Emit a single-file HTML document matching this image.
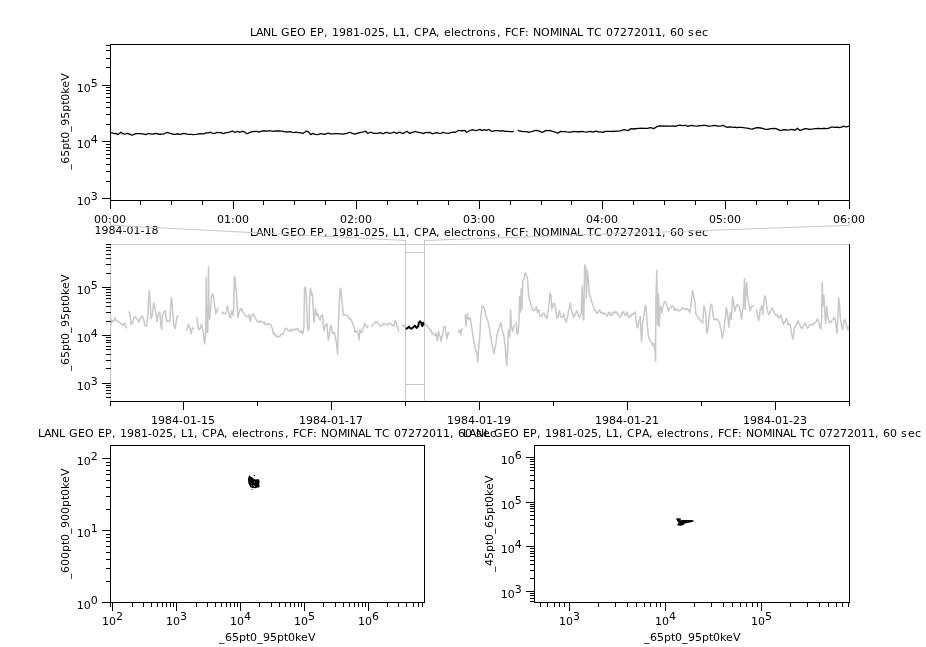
<!DOCTYPE html>
<html><head><meta charset="utf-8"><title>Autoplot</title>
<style>html,body{margin:0;padding:0;background:#fff;width:926px;height:647px;overflow:hidden}
svg{will-change:transform}
svg text{fill:#000;font-family:"DejaVu Sans","Liberation Sans",sans-serif;font-size:11px;white-space:pre}</style>
</head><body>
<svg width="926" height="647" viewBox="0 0 926 647" style="display:block">
<text x="250 256 263 271 277 281 290 297 306 310 317 324 328 332 339 346 353 360 364 371 378 385 389 393 399 406 410 414 422 429 436 440 444 451 454 461 467 471 476 483 490 497 501 505 511 519 525 529 533 541 550 559 562 570 577 583 587 594 602 606 613 620 627 634 641 648 655 662 666 670 677 684 688 695 702" y="36">LANL GEO EP, 1981-025, L1, CPA, electrons, FCF: NOMINAL TC 07272011, 60 sec</text>
<polyline points="110.5,132.61 113,133.23 114.5,133.53 116,133.29 117.7,134.62 119.35,133.43 121,132.18 122.6,133.4 124.2,134.17 125.8,133.92 127.4,133.28 129.03,133.83 130.67,134.53 132.3,135.26 134.2,134.21 136.1,133.56 138.25,133.66 140.4,133.72 142.2,133.84 144,134.05 145.8,134.64 147.4,133.72 149,133.68 150.65,133.84 152.3,134.22 154.45,133.76 156.6,133.4 158.2,134.11 159.8,134.24 162,134.09 164.2,133.77 165.7,132.99 167.2,132.42 170.1,133.48 172,133.93 173.9,134.45 175.5,134.29 177.1,133.76 179.8,134.31 181.7,133.99 183.6,133.48 185.2,133.65 186.8,134.15 189,134.4 191.2,134.47 193.35,134.54 195.5,134.41 197.65,134.14 199.8,133.61 202.2,133.89 203.8,133.84 205.4,133.01 207.03,132.89 208.67,132.8 210.3,132.23 212.15,133.09 214,133.57 216.7,132.48 218.6,132.53 220.5,132.44 223.2,133.69 225.9,132.61 227.55,132.5 229.2,132.15 230.8,131.69 232.4,131.18 234.6,132.27 236.2,131.97 237.8,131.39 240,132.28 241.6,131.48 243.2,131.3 245.1,132.42 247,133.75 248.9,132.96 250.8,131.99 252.95,131.59 255.1,131.28 257,131.41 258.9,132.08 261.6,131.03 263.4,130.98 265.2,130.91 267,131.23 268.72,130.91 270.44,130.97 272.16,131.05 273.88,131.29 275.6,130.89 277.23,131.02 278.85,131.02 280.48,131.14 282.1,131.06 284.25,131.68 286.4,131.99 288,131.86 289.6,131.63 291.8,132.19 294,132.53 295.5,132.25 297,132.39 298.5,132.54 300,132.67 302.7,133.49 304.6,132.34 306.5,130.98 308.6,132.15 310.8,134.56 313,133.43 315.1,134.43 316.75,134.58 318.4,134.4 321.1,133.51 323.8,134.46 325.95,133.99 328.1,133.18 330.25,133.8 332.4,133.94 334,133.79 335.6,133.55 337.5,133.65 339.4,133.95 341.3,133.8 343.2,134.07 344.8,133.68 346.4,133.58 348.05,132.95 349.7,132.23 352.4,133.42 355.1,134.18 357,133.45 358.9,132.83 360.75,132.4 362.6,132.13 364.25,131.51 365.9,131.49 368,133.56 370.2,132.22 372.35,132.83 374.5,133.42 376.15,133.43 377.8,133.31 380.5,132.57 383.2,133.75 384.8,132.93 386.4,132.39 388,132.74 389.6,133.3 391.8,132.77 394,132.08 396.7,133.36 398.35,132.63 400,132.16 401.6,133.18 403.2,133.51 405.1,132.22 407,131.32 409.7,133.46 411.9,132.41 413.5,132.09 415.1,131.48 416.75,131.95 418.4,132.28 420,132.7 421.6,132.97 423.2,133.64 425.9,132.42 427.55,132.54 429.2,132.31 430.8,132.86 432.4,133.76 434.55,133.24 436.7,132.58 438.35,133.1 440,133.66 441.6,133.07 443.2,132.26 444.8,132.81 446.4,133.13 448.6,133.36 450.2,132.76 451.8,132.29 453.45,132.18 455.1,132.3 456.7,131.58 458.3,130.47 459.93,130.72 461.55,130.74 463.18,130.73 464.8,130.43 466.7,132.26 469.1,130.96 470.75,130.25 472.4,129.55 474,130.16 475.6,130.7 477.75,130.12 479.9,129.39 482.1,130.58 484.2,129.65 486.4,130.29 489.1,129.48 491.8,131.5 493.4,131.04 495,130.63 496.67,130.62 498.33,130.61 500,131.04 501.6,130.72 503.2,130.85 504.85,131.34 506.5,131.45 508.32,131.45 510.15,131.72 511.97,131.61 513.8,131.5" fill="none" stroke="#000" stroke-width="1.3" stroke-linejoin="round"/>
<polyline points="517.8,130.14 520,131.21 521.6,131.26 523.2,131.67 524.8,131.65 526.7,131.72 528.6,132.46 530.5,131.99 532.4,131.28 534.55,130.73 536.7,130.42 538.5,130.85 540.3,131.42 542.1,132.54 544.25,131.37 546.4,130.31 548.05,130.57 549.7,130.37 551.85,131.14 554,131.66 555.6,132.31 557.2,133.28 559.1,132.3 561,131.27 562.9,131.59 564.8,131.58 566.95,131.96 569.1,132.12 571.25,132.06 573.4,131.33 575.6,131.53 577.8,131.74 579.95,131.75 582.1,131.36 584.25,131.96 586.4,132.1 588,131.77 589.6,131.41 591.25,131.51 592.9,132.07 594.5,131.59 596.1,131.15 598.05,131.9 600,131.94 601.6,132.19 603.2,132.41 604.9,131.43 606.87,131.31 608.83,131.41 610.8,131.43 612.32,131.5 613.84,131.12 615.36,131.31 616.88,131.11 618.4,131.09 620,130.89 621.6,130.3 624.3,129.63 626.2,130.13 628.1,130.61 629.7,129.42 631.3,128.56 633.5,129 635.1,128.76 636.7,128.6 638.33,128.4 639.95,128.37 641.58,128.26 643.2,128.42 645.35,128.3 647.5,128.39 650.2,127.62 651.85,127.93 653.5,128.73 655.35,127.67 657.2,126.37 658.72,126.02 660.24,126.01 661.76,126.17 663.28,125.99 664.8,126.07 666.42,125.94 668.05,126.18 669.67,126.19 671.3,126.2 673.45,125.93 675.6,126.31 678.3,125.48 680.05,125.22 681.8,125.59 683.55,125.63 685.3,125.26 688,126.43 689.9,125.7 691.8,125.29 693.4,125.79 695,125.97 697.2,126.03 700,125.57 701.63,125.57 703.27,125.45 704.9,125.35 706.5,125.68 708.1,126.14 709.7,126.06 711.85,125.93 714,125.47 715.9,125.66 717.8,126.22 719.6,126.1 721.4,125.77 723.2,125.28 725.1,126.54 727,127.24 729.7,126.84 732.4,127.2 733.92,127.32 735.44,127.25 736.96,127.66 738.48,127.45 740,127.41 741.6,127.46 743.2,127.61 745.1,127.96 747,128.08 748.6,128.29 750.2,128.94 751.8,129.04 753.42,128.75 755.05,128.09 756.67,127.73 758.3,127.69 760.45,128.01 762.6,128.29 764.8,129.17 767,129.47 768.63,129.25 770.27,128.59 771.9,128.68 774.05,128.28 776.2,128.68 778.35,129.58 780.5,130.62 782.15,130.08 783.8,129.61 785.4,129.73 787,130.11 789.15,129.96 791.3,129.47 793.2,129.75 795.1,130.13 797.3,128.28 800,130.55 801.8,129.87 803.6,129.14 805.4,128.63 807.55,128.84 809.7,129.4 811.5,129.04 813.3,128.92 815.1,128.56 816.7,128.53 818.3,128.26 819.92,128.62 821.53,128.53 823.15,128.34 824.77,128.49 826.38,128.72 828,128.3 829.65,127.96 831.3,127.07 833.02,127.16 834.74,127.39 836.46,127.23 838.18,127.34 839.9,127.49 841.55,127.09 843.2,126.22 844.8,126.67 846.4,126.8 849.2,126.1" fill="none" stroke="#000" stroke-width="1.3" stroke-linejoin="round"/>
<rect x="110.5" y="44.5" width="739.0" height="156.0" fill="none" stroke="#000" stroke-width="1"/>
<line x1="102" y1="198.5" x2="111" y2="198.5" stroke="#000" stroke-width="1"/>
<line x1="106" y1="181.5" x2="111" y2="181.5" stroke="#000" stroke-width="1"/>
<line x1="106" y1="171.5" x2="111" y2="171.5" stroke="#000" stroke-width="1"/>
<line x1="106" y1="164.5" x2="111" y2="164.5" stroke="#000" stroke-width="1"/>
<line x1="106" y1="158.5" x2="111" y2="158.5" stroke="#000" stroke-width="1"/>
<line x1="106" y1="154.5" x2="111" y2="154.5" stroke="#000" stroke-width="1"/>
<line x1="106" y1="150.5" x2="111" y2="150.5" stroke="#000" stroke-width="1"/>
<line x1="106" y1="147.5" x2="111" y2="147.5" stroke="#000" stroke-width="1"/>
<line x1="106" y1="144.5" x2="111" y2="144.5" stroke="#000" stroke-width="1"/>
<line x1="102" y1="141.5" x2="111" y2="141.5" stroke="#000" stroke-width="1"/>
<line x1="106" y1="124.5" x2="111" y2="124.5" stroke="#000" stroke-width="1"/>
<line x1="106" y1="114.5" x2="111" y2="114.5" stroke="#000" stroke-width="1"/>
<line x1="106" y1="107.5" x2="111" y2="107.5" stroke="#000" stroke-width="1"/>
<line x1="106" y1="102.5" x2="111" y2="102.5" stroke="#000" stroke-width="1"/>
<line x1="106" y1="97.5" x2="111" y2="97.5" stroke="#000" stroke-width="1"/>
<line x1="106" y1="93.5" x2="111" y2="93.5" stroke="#000" stroke-width="1"/>
<line x1="106" y1="90.5" x2="111" y2="90.5" stroke="#000" stroke-width="1"/>
<line x1="106" y1="87.5" x2="111" y2="87.5" stroke="#000" stroke-width="1"/>
<line x1="102" y1="85.5" x2="111" y2="85.5" stroke="#000" stroke-width="1"/>
<line x1="106" y1="67.5" x2="111" y2="67.5" stroke="#000" stroke-width="1"/>
<line x1="106" y1="58.5" x2="111" y2="58.5" stroke="#000" stroke-width="1"/>
<line x1="106" y1="50.5" x2="111" y2="50.5" stroke="#000" stroke-width="1"/>
<line x1="106" y1="45.5" x2="111" y2="45.5" stroke="#000" stroke-width="1"/>
<text x="76.7 83.7" y="91.8">10</text><text x="90.7" y="86.8">5</text>
<text x="76.7 83.7" y="147.8">10</text><text x="90.7" y="142.8">4</text>
<text x="76.7 83.7" y="204.8">10</text><text x="90.7" y="199.8">3</text>
<text transform="translate(69,169.8) rotate(-90)" x="0 6 13 20 27 31 38 44 51 58 65 69 76 82 89" y="0">_65pt0_95pt0keV</text>
<line x1="110.5" y1="200" x2="110.5" y2="209" stroke="#000" stroke-width="1"/>
<line x1="140.5" y1="200" x2="140.5" y2="205" stroke="#000" stroke-width="1"/>
<line x1="171.5" y1="200" x2="171.5" y2="205" stroke="#000" stroke-width="1"/>
<line x1="202.5" y1="200" x2="202.5" y2="205" stroke="#000" stroke-width="1"/>
<line x1="233.5" y1="200" x2="233.5" y2="209" stroke="#000" stroke-width="1"/>
<line x1="263.5" y1="200" x2="263.5" y2="205" stroke="#000" stroke-width="1"/>
<line x1="294.5" y1="200" x2="294.5" y2="205" stroke="#000" stroke-width="1"/>
<line x1="325.5" y1="200" x2="325.5" y2="205" stroke="#000" stroke-width="1"/>
<line x1="356.5" y1="200" x2="356.5" y2="209" stroke="#000" stroke-width="1"/>
<line x1="387.5" y1="200" x2="387.5" y2="205" stroke="#000" stroke-width="1"/>
<line x1="417.5" y1="200" x2="417.5" y2="205" stroke="#000" stroke-width="1"/>
<line x1="448.5" y1="200" x2="448.5" y2="205" stroke="#000" stroke-width="1"/>
<line x1="479.5" y1="200" x2="479.5" y2="209" stroke="#000" stroke-width="1"/>
<line x1="510.5" y1="200" x2="510.5" y2="205" stroke="#000" stroke-width="1"/>
<line x1="541.5" y1="200" x2="541.5" y2="205" stroke="#000" stroke-width="1"/>
<line x1="571.5" y1="200" x2="571.5" y2="205" stroke="#000" stroke-width="1"/>
<line x1="602.5" y1="200" x2="602.5" y2="209" stroke="#000" stroke-width="1"/>
<line x1="633.5" y1="200" x2="633.5" y2="205" stroke="#000" stroke-width="1"/>
<line x1="664.5" y1="200" x2="664.5" y2="205" stroke="#000" stroke-width="1"/>
<line x1="695.5" y1="200" x2="695.5" y2="205" stroke="#000" stroke-width="1"/>
<line x1="725.5" y1="200" x2="725.5" y2="209" stroke="#000" stroke-width="1"/>
<line x1="756.5" y1="200" x2="756.5" y2="205" stroke="#000" stroke-width="1"/>
<line x1="787.5" y1="200" x2="787.5" y2="205" stroke="#000" stroke-width="1"/>
<line x1="818.5" y1="200" x2="818.5" y2="205" stroke="#000" stroke-width="1"/>
<line x1="849.5" y1="200" x2="849.5" y2="209" stroke="#000" stroke-width="1"/>
<text x="94 101 108 112 119" y="223">00:00</text>
<text x="217 224 231 235 242" y="223">01:00</text>
<text x="340 347 354 358 365" y="223">02:00</text>
<text x="463 470 477 481 488" y="223">03:00</text>
<text x="586 593 600 604 611" y="223">04:00</text>
<text x="709 716 723 727 734" y="223">05:00</text>
<text x="833 840 847 851 858" y="223">06:00</text>
<text x="94.5 101.5 108.5 115.5 122.5 126.5 133.5 140.5 144.5 151.5" y="234">1984-01-18</text>
<text x="250 256 263 271 277 281 290 297 306 310 317 324 328 332 339 346 353 360 364 371 378 385 389 393 399 406 410 414 422 429 436 440 444 451 454 461 467 471 476 483 490 497 501 505 511 519 525 529 533 541 550 559 562 570 577 583 587 594 602 606 613 620 627 634 641 648 655 662 666 670 677 684 688 695 702" y="236">LANL GEO EP, 1981-025, L1, CPA, electrons, FCF: NOMINAL TC 07272011, 60 sec</text>
<line x1="110.5" y1="222.5" x2="110.5" y2="225.3" stroke="#c8c8c8" stroke-width="1"/>
<line x1="110.5" y1="225.3" x2="405.5" y2="240.5" stroke="#c8c8c8" stroke-width="1"/>
<line x1="849.5" y1="222" x2="849.5" y2="225.3" stroke="#c8c8c8" stroke-width="1"/>
<line x1="849.5" y1="225.3" x2="424.5" y2="240.5" stroke="#c8c8c8" stroke-width="1"/>
<polyline points="110.5,316.8 110.8,325.3 111.9,319.9 112.65,321.49 113.4,321.5 114.2,320.46 115,317.6 116.15,320.47 117.3,320.7 118.45,322.25 119.6,322.2 120.75,323.85 121.9,323.8 122.7,325.49 123.5,325.3 124.7,323 125.6,325.21 126.5,328.4" fill="none" stroke="#c8c8c8" stroke-width="1.5" stroke-linejoin="round"/>
<polyline points="128.6,311.4 129.6,313 130.4,317.95 131.2,324.6 131.95,322.81 132.7,323 133.5,318.73 134.3,316.8 135.45,317.21 136.6,318.4 137.75,319.68 138.9,322.2 140.05,319.12 141.2,316.8 142,316.01 142.8,317.6 143.95,320.79 145.1,326.1 145.85,325.77 146.6,326.1 147.25,320.07 147.9,316.8 148.5,299.8 149.3,290.5 150,298.3 151,318.4 152,316.8 152.8,311.21 153.6,302.9 154.4,306 155.15,308.84 155.9,313.7 157.1,321.5 158.2,313.7 159,311.98 159.8,312.2 160.9,326.1 161.6,329.2 162.4,315.3 163.6,313 164.4,311.34 165.2,310.6 165.95,315.75 166.7,321.5 167.5,320.63 168.3,321.5 169.05,321.15 169.8,321.5 170.6,307.5 171.4,297.5 172.1,302.9 172.9,314.24 173.7,324.6 174.45,327.05 175.2,328.4 176,322.91 176.8,316.8 177.55,316.85 178.3,315.3" fill="none" stroke="#c8c8c8" stroke-width="1.5" stroke-linejoin="round"/>
<polyline points="186,330.7 187.2,328.42 188.4,324.6 189.6,327.6 190.4,329.48 191.2,333.8 191.95,329.84 192.7,327.6 193.8,329.2" fill="none" stroke="#c8c8c8" stroke-width="1.5" stroke-linejoin="round"/>
<polyline points="196.9,316.8 197.65,323.6 198.4,328.4 199.2,329.64 200,329.2 201.2,324.6 202.3,327.6 203.4,333.8 204.6,343.9 205.4,338.5 205.9,323 206.2,277.4 206.6,332.3 207.3,306 207.7,332.3 208.2,304.5 208.5,266.6 209,310.6 209.6,319.1 210.5,309.1 211.6,296 212.7,293.6 213.6,298.3 214.7,306 215.8,313.7 216.7,312.2 217.8,307.5" fill="none" stroke="#c8c8c8" stroke-width="1.5" stroke-linejoin="round"/>
<polyline points="221.6,313 222.4,313.62 223.2,312.2 223.95,313.74 224.7,313.7 225.5,313.54 226.3,312.2 227.5,306 228.6,310.6 229.4,316.8 230.6,317.6 231.7,310.6 232.8,315.3 233.7,309.1 234.3,276.6 235.2,278.2 235.9,290.5 236.6,293.6 237.1,306 237.9,317.6 238.6,313.7 239.25,312.8 239.9,309.1 240.8,310.1 241.7,308.3 242.5,311.47 243.3,312.2 244.45,314.82 245.6,315.3 246.75,316.68 247.9,316.8 249.1,314.5 250.2,321.5 251,318.94 251.8,315.3 252.55,315.1 253.3,313.7 254.45,316.41 255.6,318.4 256.8,321.09 258,321.5 259,322.46 260,320.74 261,322.2 262.2,321.89 263.4,323 264.43,321.91 265.47,324.76 266.5,323.8 267.53,324.35 268.57,323.82 269.6,324.6 270.75,324.8 271.9,327.6 272.65,329.89 273.4,333.8 274.55,333.57 275.7,336.1 276.73,335.64 277.77,337 278.8,336.9 279.95,336.33 281.1,333.8 282.3,334.55 283.5,333 284.25,331.28 285,328.4 285.8,328.78 286.6,328.4 287.75,330.2 288.9,330.7 290.05,331.31 291.2,329.2 292.23,330.6 293.27,329.32 294.3,330 295.33,328.91 296.37,329.33 297.4,328.4 298.55,330.3 299.7,331.5 300.6,332.27 301.5,330.7 302.15,332.73 302.8,333.8 303.9,327.6 304.6,287.5 305.7,288.2 306.5,301.4 307.3,323 308.2,330.7 309,327.6 309.6,296.7 310.5,288.2 311.6,295.2 312.4,293.6 313.1,306 313.9,322.2 314.7,316.8 315.5,308.3 316.7,315.3 317.8,313.7 318.9,318.4 320.1,319.9 320.9,316.1 321.65,316.21 322.4,314.5 323.2,323.38 324,330.7 324.75,328.14 325.5,324.6 326.25,325.3 327,323.8 327.65,332.33 328.3,340 329.4,335.4 330.6,325.3 331.7,327.6 332.8,333.8 334,332.3 334.75,333.6 335.5,336.9 336.15,341.14 336.8,346.2 337.6,353.9 338.3,327.6 339.4,301.4 340.2,288.2 341,290.5 342,301.4 342.65,307.6 343.3,315.3 344.05,314.38 344.8,314.5 345.95,314.72 347.1,316.1 348.3,316.23 349.5,319.1 350.65,319.12 351.8,321.5 352.55,322.78 353.3,325.3 354.1,327.53 354.9,332.3 355.65,330.98 356.4,330.7 357.2,331.13 358,333 359,340 360,329.2 361,332.3 361.8,332.74 362.6,330.7 363.7,326.9 364.9,323 365.55,325.15 366.2,325.3 367.2,327.6 368,326.46 368.8,326.1" fill="none" stroke="#c8c8c8" stroke-width="1.5" stroke-linejoin="round"/>
<polyline points="371.1,325.3 372.25,325.94 373.4,323.8 374.55,323.17 375.7,321.5 376.85,322.42 378,322.2 379.2,325.3 380.4,326.1 381.55,325.6 382.7,323.8 383.73,324.68 384.77,323.97 385.8,324.6 386.95,324.57 388.1,325.3 388.85,323.22 389.6,323 390.8,323.6 392,325.3 393,324.75 394,326.1 394.7,322.7 395.4,320.7 396.15,322.26 396.9,325.4 397.8,327.15 398.7,331.6" fill="none" stroke="#c8c8c8" stroke-width="1.5" stroke-linejoin="round"/>
<polyline points="402.1,324.5 403.03,326.16 403.97,325.24 404.9,327 405.6,328.8" fill="none" stroke="#c8c8c8" stroke-width="1.5" stroke-linejoin="round"/>
<polyline points="424.8,322.9 425.77,325.58 426.73,325.28 427.7,327.2 428.95,328.45 430.2,330.6 431.07,330.14 431.93,333.46 432.8,333.1 433.9,334.96 435,335.7 436.2,333.1 437.3,340.8 438,336.59 438.7,331.4 439.4,335.06 440.1,336.5 441.3,341.6 442.4,334.8 443.1,332.33 443.8,327.2 444.5,327.25 445.2,326.3 445.9,333.1 446.9,339.1 448.1,332.3 448.9,334.8" fill="none" stroke="#c8c8c8" stroke-width="1.5" stroke-linejoin="round"/>
<polyline points="458.3,333.1 459.5,329.7 460.15,330.91 460.8,334.8 462,328" fill="none" stroke="#c8c8c8" stroke-width="1.5" stroke-linejoin="round"/>
<polyline points="465.1,314.4 465.9,326.3 466.6,318.68 467.3,313.6 468.5,319.5 469.35,319.61 470.2,317.8 471.05,323.65 471.9,328 472.75,334.35 473.6,339.9 474.45,344.47 475.3,348.4 475.95,351.46 476.6,351.8 477.8,362 478.7,348.4 479.9,334.8 480.9,316.1 482.1,305.9 482.95,306.2 483.8,307.6 485,311 485.85,315.47 486.7,317.8 487.35,320.07 488,321.2 488.7,325.8 489.4,328 490.25,334.05 491.1,338.2 491.95,343.91 492.8,348.4 494,353.5 494.85,348.77 495.7,345 496.55,337.96 497.4,333.1 498.25,330.19 499.1,328 499.95,324.91 500.8,322.9 501.65,326.24 502.5,331.4 503.35,333.57 504.2,338.2 505.4,348.4 506.05,357.87 506.7,365.4 507.6,351.8 508.4,329.7 509.1,333.69 509.8,336.5 510.6,310.2 511.3,324.6 512,329.31 512.7,331.4 513.5,328 514.4,324.6" fill="none" stroke="#c8c8c8" stroke-width="1.5" stroke-linejoin="round"/>
<polyline points="516.2,321.5 516.9,333.8 518.1,333.8 518.9,323 519.6,296.7 520.4,312.2 521.2,289 522,309.1 522.7,280.5 524,279.7 525,272.8 526.1,274.3 527.4,278.2 528.1,287.5 528.9,296.7 529.7,300.31 530.5,302.9 531.25,305.9 532,308.3 532.75,310.03 533.5,310.6 534.3,310.63 535.1,309.1 536.3,306.8 537.4,312.2 538.2,311.4 539,309.9 540,316.1 541,315.62 542,316.1 542.8,313.86 543.6,313 544.35,313.63 545.1,316.1 545.9,316.82 546.7,318.4 547.9,312.2 549,304.5 549.9,292.9 550.9,295.2 551.8,309.1 552.9,306 553.6,302.9 554.9,304.5 556,312.2 557,318.4 558.3,315.3 559.5,310.6 560.6,316.8 561.35,317.49 562.1,316.8 562.9,316.53 563.7,313.7 564.45,318.18 565.2,319.9 566.3,322.2 566.95,318.48 567.6,316.8 568.35,311.9 569.1,309.1 570.2,302.9 571.4,309.9 572.5,313.7 573.7,317.6 574.5,315.12 575.3,314.5 576.05,312.11 576.8,310.6 577.45,312.63 578.1,315.3 578.85,316.15 579.6,317.6 580.4,314.35 581.2,313.7 582.2,285.9 583,316.8 583.8,320 584.6,265 585.8,267.4 586.4,298.3 587.3,270.5 588.4,279.7 589.2,292.1 589.95,296.27 590.7,298.3 591.5,301.96 592.3,302.9 593.05,305.5 593.8,307.5 594.6,310.04 595.4,310.6 596.15,312.62 596.9,313 597.7,313.3 598.5,311.4 599.7,309.9 600.8,313 601.55,313.24 602.3,312.2 603.45,314 604.6,313 605.8,314.91 607,316.1 607.75,315.04 608.5,312.2 609.3,313.71 610.1,313 610.85,315.44 611.6,315.3 612.35,314.86 613.1,312.2 613.9,312.87 614.7,311.4 615.75,312.87 616.8,312 617.65,314.55 618.5,314.5 619.35,316.47 620.2,317.1 621.05,316 621.9,312.8 622.75,313.24 623.6,311.1 624.45,314.51 625.3,315.4 626.15,314.45 627,312 627.85,315.72 628.7,317.1 629.55,317.5 630.4,315.4 631.27,316.02 632.13,313.82 633,314.5 634.1,312.54 635.2,312 636.4,323 637.6,328.1 638.9,321.3 639.6,319.68 640.3,316.2 641.5,341.7 642.7,323 644,314.5 645.2,305.2 646.1,307.7 647.1,323 648.3,334.9 649.5,339.2 650.8,341.7 651.65,342.44 652.5,345.1 653.2,343.88 653.9,343.4 655.1,351.9 655.6,361.3 655.9,300.9 656.8,270.3 657.6,324.7 658.5,294.1 659.3,326.4 660.2,306 661.05,308.4 661.9,312.8 662.75,307.16 663.6,304.3 664.45,301.78 665.3,301.8 666.15,302.8 667,306 667.85,307.83 668.7,311.1 669.8,308.3 670.9,307.7 671.9,305.92 672.9,306 673.75,307.38 674.6,310.3 675.47,308.78 676.33,310.07 677.2,309.4 678.45,310.97 679.7,310.3 681,309.31 682.3,307.7 683.55,309.1 684.8,308.6 685.67,309.69 686.53,308.6 687.4,309.4 688.65,310.04 689.9,312.8 690.6,306.86 691.3,302.6 692.5,290.7 693.7,295.8 695,302.6 695.9,314.5 696.75,314.83 697.6,317.1 698.45,317.04 699.3,319.6 700.15,319.88 701,321.3 701.85,321.86 702.7,323 703.9,306 704.55,308.32 705.2,309.4 705.9,316.2 706.7,333.2 707.4,331.69 708.1,328.1 709.3,316.2 710.15,309.74 711,304.3 712.1,306 712.8,312.42 713.5,317.9 714.35,319.64 715.2,318.8 716.2,319.82 717.2,318.8 718.35,321.27 719.5,322.2 720.35,327.28 721.2,329.8 722.3,338.3 723,334.7 723.7,332.4 724.4,324.97 725.1,319.6 726.3,307.7 727.4,312.8 728.1,319.55 728.8,327.3 729.5,319.29 730.2,312.8 731.4,319.6 732.6,296.7 733.6,302.6 734.8,311.1 735.65,307.37 736.5,306 737.35,304.3 738.2,305.2 739.05,306.03 739.9,309.4 740.75,313.79 741.6,319.6 742.45,311.87 743.3,306 744.5,278.8 745.1,309.4 745.8,294.1 746.7,282.2 747.5,295.8 748.2,300.68 748.9,304.3 750.1,311.1 750.95,308.12 751.8,306 752.65,305.61 753.5,306.9" fill="none" stroke="#c8c8c8" stroke-width="1.5" stroke-linejoin="round"/>
<polyline points="756.4,309.4 757.4,314.5 758.6,320.5 759.45,316.17 760.3,309.4 760.95,308.53 761.6,305.2 762.8,314.5 763.65,304.07 764.5,295.8 765.7,297.5 766.4,304.79 767.1,309.4 767.95,312.54 768.8,314.5 769.65,313.27 770.5,311.1 771.35,310.18 772.2,307.7 773.05,309.99 773.9,311.1 774.75,313.77 775.6,315.4 776.45,315.69 777.3,314.5 778.15,317.18 779,317.9 779.85,317.48 780.7,315.4 781.7,317.9 782.55,320.67 783.4,324.7 784.25,322.23 785.1,322.2 785.8,319.12 786.5,318.8 787.35,320.96 788.2,324.7 789.05,323.94 789.9,323.9 791.1,329.8 791.95,334.82 792.8,339.2 793.65,334.91 794.5,328.1 795.35,326.73 796.2,324.7 797.05,323.67 797.9,320.5 798.75,323.12 799.6,323.9 800.45,326.63 801.3,328.1 802.15,328.42 803,326.4 804.1,325 805.2,323 806.2,325.98 807.2,328.1 808.5,327.19 809.8,324.7 811.05,325.01 812.3,324.7 813.15,325.06 814,323 814.85,323.15 815.7,322.2 816.55,320.94 817.4,318.8 818.25,321.23 819.1,323 819.95,326.98 820.8,329 821.7,317.9 822.2,282.2 822.9,306 823.9,295 824.6,306 825.1,317.9 825.6,323.9 826.8,306 827.6,317.9 828.45,319.67 829.3,323 830.15,321.61 831,322.2 832.05,319.89 833.1,319.6 833.95,317.57 834.8,317.9 835.45,320.8 836.1,326.4 837,333.2 837.8,319.6 838.7,297.5 839.5,304.3 840.4,317.9 841.6,326.4 842.6,329.8 843.8,321.3 845,319.6 846.3,324.7 847,326.2 847.7,329.8 848.9,326.4" fill="none" stroke="#c8c8c8" stroke-width="1.5" stroke-linejoin="round"/>
<line x1="110.5" y1="244.5" x2="849.5" y2="244.5" stroke="#c8c8c8" stroke-width="1"/>
<line x1="110.5" y1="244.5" x2="110.5" y2="401.5" stroke="#c8c8c8" stroke-width="1"/>
<line x1="849.5" y1="244" x2="849.5" y2="402" stroke="#000" stroke-width="1"/>
<line x1="110" y1="401.5" x2="850" y2="401.5" stroke="#000" stroke-width="1"/>
<line x1="405.5" y1="240" x2="405.5" y2="401" stroke="#c8c8c8" stroke-width="1"/>
<line x1="424.5" y1="240" x2="424.5" y2="401" stroke="#c8c8c8" stroke-width="1"/>
<line x1="405.5" y1="252.5" x2="424.5" y2="252.5" stroke="#c8c8c8" stroke-width="1"/>
<line x1="405.5" y1="384.5" x2="424.5" y2="384.5" stroke="#c8c8c8" stroke-width="1"/>
<polyline points="405.6,328.8 406.1,328.8 407.4,328.2 408.9,326.6 410,328 411.1,328.8 412.9,327.6 414.8,325.7 416.6,327.9 418.2,326.3 418.8,322.9 420,321.4 421.3,323.2 422.2,326 423.1,324.8 423.4,322.6 424,322.4" fill="none" stroke="#000" stroke-width="2.0" stroke-linejoin="round"/>
<line x1="106" y1="397.5" x2="111" y2="397.5" stroke="#000" stroke-width="1"/>
<line x1="106" y1="393.5" x2="111" y2="393.5" stroke="#000" stroke-width="1"/>
<line x1="106" y1="390.5" x2="111" y2="390.5" stroke="#000" stroke-width="1"/>
<line x1="106" y1="387.5" x2="111" y2="387.5" stroke="#000" stroke-width="1"/>
<line x1="106" y1="385.5" x2="111" y2="385.5" stroke="#000" stroke-width="1"/>
<line x1="102" y1="383.5" x2="111" y2="383.5" stroke="#000" stroke-width="1"/>
<line x1="106" y1="368.5" x2="111" y2="368.5" stroke="#000" stroke-width="1"/>
<line x1="106" y1="360.5" x2="111" y2="360.5" stroke="#000" stroke-width="1"/>
<line x1="106" y1="354.5" x2="111" y2="354.5" stroke="#000" stroke-width="1"/>
<line x1="106" y1="349.5" x2="111" y2="349.5" stroke="#000" stroke-width="1"/>
<line x1="106" y1="346.5" x2="111" y2="346.5" stroke="#000" stroke-width="1"/>
<line x1="106" y1="342.5" x2="111" y2="342.5" stroke="#000" stroke-width="1"/>
<line x1="106" y1="340.5" x2="111" y2="340.5" stroke="#000" stroke-width="1"/>
<line x1="106" y1="337.5" x2="111" y2="337.5" stroke="#000" stroke-width="1"/>
<line x1="102" y1="335.5" x2="111" y2="335.5" stroke="#000" stroke-width="1"/>
<line x1="106" y1="321.5" x2="111" y2="321.5" stroke="#000" stroke-width="1"/>
<line x1="106" y1="312.5" x2="111" y2="312.5" stroke="#000" stroke-width="1"/>
<line x1="106" y1="306.5" x2="111" y2="306.5" stroke="#000" stroke-width="1"/>
<line x1="106" y1="302.5" x2="111" y2="302.5" stroke="#000" stroke-width="1"/>
<line x1="106" y1="298.5" x2="111" y2="298.5" stroke="#000" stroke-width="1"/>
<line x1="106" y1="295.5" x2="111" y2="295.5" stroke="#000" stroke-width="1"/>
<line x1="106" y1="292.5" x2="111" y2="292.5" stroke="#000" stroke-width="1"/>
<line x1="106" y1="289.5" x2="111" y2="289.5" stroke="#000" stroke-width="1"/>
<line x1="102" y1="287.5" x2="111" y2="287.5" stroke="#000" stroke-width="1"/>
<line x1="106" y1="273.5" x2="111" y2="273.5" stroke="#000" stroke-width="1"/>
<line x1="106" y1="264.5" x2="111" y2="264.5" stroke="#000" stroke-width="1"/>
<line x1="106" y1="258.5" x2="111" y2="258.5" stroke="#000" stroke-width="1"/>
<line x1="106" y1="254.5" x2="111" y2="254.5" stroke="#000" stroke-width="1"/>
<line x1="106" y1="250.5" x2="111" y2="250.5" stroke="#000" stroke-width="1"/>
<line x1="106" y1="247.5" x2="111" y2="247.5" stroke="#000" stroke-width="1"/>
<line x1="106" y1="244.5" x2="111" y2="244.5" stroke="#000" stroke-width="1"/>
<text x="76.7 83.7" y="293.8">10</text><text x="90.7" y="288.8">5</text>
<text x="76.7 83.7" y="341.8">10</text><text x="90.7" y="336.8">4</text>
<text x="76.7 83.7" y="389.8">10</text><text x="90.7" y="384.8">3</text>
<text transform="translate(69,371) rotate(-90)" x="0 6 13 20 27 31 38 44 51 58 65 69 76 82 89" y="0">_65pt0_95pt0keV</text>
<line x1="110.5" y1="401" x2="110.5" y2="406" stroke="#000" stroke-width="1"/>
<line x1="183.5" y1="401" x2="183.5" y2="410" stroke="#000" stroke-width="1"/>
<line x1="257.5" y1="401" x2="257.5" y2="406" stroke="#000" stroke-width="1"/>
<line x1="331.5" y1="401" x2="331.5" y2="410" stroke="#000" stroke-width="1"/>
<line x1="405.5" y1="401" x2="405.5" y2="406" stroke="#000" stroke-width="1"/>
<line x1="479.5" y1="401" x2="479.5" y2="410" stroke="#000" stroke-width="1"/>
<line x1="553.5" y1="401" x2="553.5" y2="406" stroke="#000" stroke-width="1"/>
<line x1="627.5" y1="401" x2="627.5" y2="410" stroke="#000" stroke-width="1"/>
<line x1="701.5" y1="401" x2="701.5" y2="406" stroke="#000" stroke-width="1"/>
<line x1="775.5" y1="401" x2="775.5" y2="410" stroke="#000" stroke-width="1"/>
<line x1="849.5" y1="401" x2="849.5" y2="406" stroke="#000" stroke-width="1"/>
<text x="151 158 165 172 179 183 190 197 201 208" y="424">1984-01-15</text>
<text x="299 306 313 320 327 331 338 345 349 356" y="424">1984-01-17</text>
<text x="447 454 461 468 475 479 486 493 497 504" y="424">1984-01-19</text>
<text x="595 602 609 616 623 627 634 641 645 652" y="424">1984-01-21</text>
<text x="743 750 757 764 771 775 782 789 793 800" y="424">1984-01-23</text>
<text x="38 44 51 59 65 69 78 85 94 98 105 112 116 120 127 134 141 148 152 159 166 173 177 181 187 194 198 202 210 217 224 228 232 239 242 249 255 259 264 271 278 285 289 293 299 307 313 317 321 329 338 347 350 358 365 371 375 382 390 394 401 408 415 422 429 436 443 450 454 458 465 472 476 483 490" y="437">LANL GEO EP, 1981-025, L1, CPA, electrons, FCF: NOMINAL TC 07272011, 60 sec</text>
<path d="M249.1,475.2 L250,475.8 L250.9,477 L252.3,477.3 L253.2,478.5 L254.7,479.3 L255.9,479.6 L257.3,479.3 L258.5,479 L259.4,480.8 L259.7,482.3 L259.1,484.3 L259.7,486.1 L258.8,487.6 L257.3,487.6 L256.2,487.9 L254.7,488.2 L252.9,487.9 L250.9,487.6 L250,486.7 L249.4,484.9 L248.5,483.7 L248.2,481.7 L247.9,479.6 L248.2,477.9 L248.8,476.4 Z M253.9,474.9 h1.1 v1.1 h-1.1 Z M251.4,489 h1.2 v0.8 h-1.2 Z" fill="#000"/>
<rect x="254.0" y="481.6" width="0.9" height="0.9" fill="#fff" opacity="0.8"/>
<rect x="253.9" y="486.0" width="1.0" height="0.9" fill="#fff" opacity="0.8"/>
<rect x="250.8" y="485.4" width="0.9" height="0.9" fill="#fff" opacity="0.8"/>
<rect x="252.8" y="485.1" width="0.8" height="0.8" fill="#fff" opacity="0.8"/>
<rect x="110.5" y="445.5" width="314.0" height="157.0" fill="none" stroke="#000" stroke-width="1"/>
<line x1="102" y1="602.5" x2="111" y2="602.5" stroke="#000" stroke-width="1"/>
<line x1="106" y1="581.5" x2="111" y2="581.5" stroke="#000" stroke-width="1"/>
<line x1="106" y1="568.5" x2="111" y2="568.5" stroke="#000" stroke-width="1"/>
<line x1="106" y1="559.5" x2="111" y2="559.5" stroke="#000" stroke-width="1"/>
<line x1="106" y1="552.5" x2="111" y2="552.5" stroke="#000" stroke-width="1"/>
<line x1="106" y1="546.5" x2="111" y2="546.5" stroke="#000" stroke-width="1"/>
<line x1="106" y1="541.5" x2="111" y2="541.5" stroke="#000" stroke-width="1"/>
<line x1="106" y1="537.5" x2="111" y2="537.5" stroke="#000" stroke-width="1"/>
<line x1="106" y1="534.5" x2="111" y2="534.5" stroke="#000" stroke-width="1"/>
<line x1="102" y1="530.5" x2="111" y2="530.5" stroke="#000" stroke-width="1"/>
<line x1="106" y1="509.5" x2="111" y2="509.5" stroke="#000" stroke-width="1"/>
<line x1="106" y1="496.5" x2="111" y2="496.5" stroke="#000" stroke-width="1"/>
<line x1="106" y1="487.5" x2="111" y2="487.5" stroke="#000" stroke-width="1"/>
<line x1="106" y1="480.5" x2="111" y2="480.5" stroke="#000" stroke-width="1"/>
<line x1="106" y1="474.5" x2="111" y2="474.5" stroke="#000" stroke-width="1"/>
<line x1="106" y1="470.5" x2="111" y2="470.5" stroke="#000" stroke-width="1"/>
<line x1="106" y1="465.5" x2="111" y2="465.5" stroke="#000" stroke-width="1"/>
<line x1="106" y1="462.5" x2="111" y2="462.5" stroke="#000" stroke-width="1"/>
<line x1="102" y1="458.5" x2="111" y2="458.5" stroke="#000" stroke-width="1"/>
<text x="76.7 83.7" y="464.8">10</text><text x="90.7" y="459.8">2</text>
<text x="76.7 83.7" y="536.8">10</text><text x="90.7" y="531.8">1</text>
<text x="76.7 83.7" y="608.8">10</text><text x="90.7" y="603.8">0</text>
<text transform="translate(69,579) rotate(-90)" x="0 6 13 20 27 34 38 45 51 58 65 72 79 83 90 96 103" y="0">_600pt0_900pt0keV</text>
<line x1="110.5" y1="602" x2="110.5" y2="607" stroke="#000" stroke-width="1"/>
<line x1="112.5" y1="602" x2="112.5" y2="611" stroke="#000" stroke-width="1"/>
<line x1="132.5" y1="602" x2="132.5" y2="607" stroke="#000" stroke-width="1"/>
<line x1="143.5" y1="602" x2="143.5" y2="607" stroke="#000" stroke-width="1"/>
<line x1="151.5" y1="602" x2="151.5" y2="607" stroke="#000" stroke-width="1"/>
<line x1="157.5" y1="602" x2="157.5" y2="607" stroke="#000" stroke-width="1"/>
<line x1="162.5" y1="602" x2="162.5" y2="607" stroke="#000" stroke-width="1"/>
<line x1="166.5" y1="602" x2="166.5" y2="607" stroke="#000" stroke-width="1"/>
<line x1="170.5" y1="602" x2="170.5" y2="607" stroke="#000" stroke-width="1"/>
<line x1="173.5" y1="602" x2="173.5" y2="607" stroke="#000" stroke-width="1"/>
<line x1="176.5" y1="602" x2="176.5" y2="611" stroke="#000" stroke-width="1"/>
<line x1="196.5" y1="602" x2="196.5" y2="607" stroke="#000" stroke-width="1"/>
<line x1="207.5" y1="602" x2="207.5" y2="607" stroke="#000" stroke-width="1"/>
<line x1="215.5" y1="602" x2="215.5" y2="607" stroke="#000" stroke-width="1"/>
<line x1="221.5" y1="602" x2="221.5" y2="607" stroke="#000" stroke-width="1"/>
<line x1="226.5" y1="602" x2="226.5" y2="607" stroke="#000" stroke-width="1"/>
<line x1="230.5" y1="602" x2="230.5" y2="607" stroke="#000" stroke-width="1"/>
<line x1="234.5" y1="602" x2="234.5" y2="607" stroke="#000" stroke-width="1"/>
<line x1="237.5" y1="602" x2="237.5" y2="607" stroke="#000" stroke-width="1"/>
<line x1="240.5" y1="602" x2="240.5" y2="611" stroke="#000" stroke-width="1"/>
<line x1="259.5" y1="602" x2="259.5" y2="607" stroke="#000" stroke-width="1"/>
<line x1="271.5" y1="602" x2="271.5" y2="607" stroke="#000" stroke-width="1"/>
<line x1="279.5" y1="602" x2="279.5" y2="607" stroke="#000" stroke-width="1"/>
<line x1="285.5" y1="602" x2="285.5" y2="607" stroke="#000" stroke-width="1"/>
<line x1="290.5" y1="602" x2="290.5" y2="607" stroke="#000" stroke-width="1"/>
<line x1="294.5" y1="602" x2="294.5" y2="607" stroke="#000" stroke-width="1"/>
<line x1="298.5" y1="602" x2="298.5" y2="607" stroke="#000" stroke-width="1"/>
<line x1="301.5" y1="602" x2="301.5" y2="607" stroke="#000" stroke-width="1"/>
<line x1="304.5" y1="602" x2="304.5" y2="611" stroke="#000" stroke-width="1"/>
<line x1="323.5" y1="602" x2="323.5" y2="607" stroke="#000" stroke-width="1"/>
<line x1="335.5" y1="602" x2="335.5" y2="607" stroke="#000" stroke-width="1"/>
<line x1="343.5" y1="602" x2="343.5" y2="607" stroke="#000" stroke-width="1"/>
<line x1="349.5" y1="602" x2="349.5" y2="607" stroke="#000" stroke-width="1"/>
<line x1="354.5" y1="602" x2="354.5" y2="607" stroke="#000" stroke-width="1"/>
<line x1="358.5" y1="602" x2="358.5" y2="607" stroke="#000" stroke-width="1"/>
<line x1="362.5" y1="602" x2="362.5" y2="607" stroke="#000" stroke-width="1"/>
<line x1="365.5" y1="602" x2="365.5" y2="607" stroke="#000" stroke-width="1"/>
<line x1="368.5" y1="602" x2="368.5" y2="611" stroke="#000" stroke-width="1"/>
<line x1="387.5" y1="602" x2="387.5" y2="607" stroke="#000" stroke-width="1"/>
<line x1="398.5" y1="602" x2="398.5" y2="607" stroke="#000" stroke-width="1"/>
<line x1="406.5" y1="602" x2="406.5" y2="607" stroke="#000" stroke-width="1"/>
<line x1="413.5" y1="602" x2="413.5" y2="607" stroke="#000" stroke-width="1"/>
<line x1="418.5" y1="602" x2="418.5" y2="607" stroke="#000" stroke-width="1"/>
<line x1="422.5" y1="602" x2="422.5" y2="607" stroke="#000" stroke-width="1"/>
<text x="102 109" y="625">10</text><text x="116" y="620">2</text>
<text x="166 173" y="625">10</text><text x="180" y="620">3</text>
<text x="230 237" y="625">10</text><text x="244" y="620">4</text>
<text x="294 301" y="625">10</text><text x="308" y="620">5</text>
<text x="358 365" y="625">10</text><text x="372" y="620">6</text>
<text x="219 225 232 239 246 250 257 263 270 277 284 288 295 301 308" y="640.5">_65pt0_95pt0keV</text>
<text x="463 469 476 484 490 494 503 510 519 523 530 537 541 545 552 559 566 573 577 584 591 598 602 606 612 619 623 627 635 642 649 653 657 664 667 674 680 684 689 696 703 710 714 718 724 732 738 742 746 754 763 772 775 783 790 796 800 807 815 819 826 833 840 847 854 861 868 875 879 883 890 897 901 908 915" y="437">LANL GEO EP, 1981-025, L1, CPA, electrons, FCF: NOMINAL TC 07272011, 60 sec</text>
<path d="M676.4,518.1 L678.2,518.4 L680.5,518.3 L680.8,519.4 L680.3,520.2 L683.4,520.1 L688.6,520.1 L693.5,520.2 L693.7,521.5 L691.1,522.3 L687.5,523.1 L684.7,523.6 L683.4,524.9 L680.8,525.7 L677.7,525.4 L677.1,524.4 L678.7,523.3 L678.2,522.3 L677.4,521.5 L676.9,520.5 L676.4,519.2 Z" fill="#000"/>
<rect x="534.5" y="445.5" width="315.0" height="157.0" fill="none" stroke="#000" stroke-width="1"/>
<line x1="530" y1="601.5" x2="535" y2="601.5" stroke="#000" stroke-width="1"/>
<line x1="530" y1="598.5" x2="535" y2="598.5" stroke="#000" stroke-width="1"/>
<line x1="530" y1="595.5" x2="535" y2="595.5" stroke="#000" stroke-width="1"/>
<line x1="530" y1="593.5" x2="535" y2="593.5" stroke="#000" stroke-width="1"/>
<line x1="526" y1="591.5" x2="535" y2="591.5" stroke="#000" stroke-width="1"/>
<line x1="530" y1="578.5" x2="535" y2="578.5" stroke="#000" stroke-width="1"/>
<line x1="530" y1="570.5" x2="535" y2="570.5" stroke="#000" stroke-width="1"/>
<line x1="530" y1="564.5" x2="535" y2="564.5" stroke="#000" stroke-width="1"/>
<line x1="530" y1="560.5" x2="535" y2="560.5" stroke="#000" stroke-width="1"/>
<line x1="530" y1="556.5" x2="535" y2="556.5" stroke="#000" stroke-width="1"/>
<line x1="530" y1="553.5" x2="535" y2="553.5" stroke="#000" stroke-width="1"/>
<line x1="530" y1="551.5" x2="535" y2="551.5" stroke="#000" stroke-width="1"/>
<line x1="530" y1="548.5" x2="535" y2="548.5" stroke="#000" stroke-width="1"/>
<line x1="526" y1="546.5" x2="535" y2="546.5" stroke="#000" stroke-width="1"/>
<line x1="530" y1="533.5" x2="535" y2="533.5" stroke="#000" stroke-width="1"/>
<line x1="530" y1="525.5" x2="535" y2="525.5" stroke="#000" stroke-width="1"/>
<line x1="530" y1="519.5" x2="535" y2="519.5" stroke="#000" stroke-width="1"/>
<line x1="530" y1="515.5" x2="535" y2="515.5" stroke="#000" stroke-width="1"/>
<line x1="530" y1="511.5" x2="535" y2="511.5" stroke="#000" stroke-width="1"/>
<line x1="530" y1="508.5" x2="535" y2="508.5" stroke="#000" stroke-width="1"/>
<line x1="530" y1="506.5" x2="535" y2="506.5" stroke="#000" stroke-width="1"/>
<line x1="530" y1="504.5" x2="535" y2="504.5" stroke="#000" stroke-width="1"/>
<line x1="526" y1="502.5" x2="535" y2="502.5" stroke="#000" stroke-width="1"/>
<line x1="530" y1="488.5" x2="535" y2="488.5" stroke="#000" stroke-width="1"/>
<line x1="530" y1="480.5" x2="535" y2="480.5" stroke="#000" stroke-width="1"/>
<line x1="530" y1="475.5" x2="535" y2="475.5" stroke="#000" stroke-width="1"/>
<line x1="530" y1="470.5" x2="535" y2="470.5" stroke="#000" stroke-width="1"/>
<line x1="530" y1="467.5" x2="535" y2="467.5" stroke="#000" stroke-width="1"/>
<line x1="530" y1="464.5" x2="535" y2="464.5" stroke="#000" stroke-width="1"/>
<line x1="530" y1="461.5" x2="535" y2="461.5" stroke="#000" stroke-width="1"/>
<line x1="530" y1="459.5" x2="535" y2="459.5" stroke="#000" stroke-width="1"/>
<line x1="526" y1="457.5" x2="535" y2="457.5" stroke="#000" stroke-width="1"/>
<text x="500.7 507.7" y="463.8">10</text><text x="514.7" y="458.8">6</text>
<text x="500.7 507.7" y="508.8">10</text><text x="514.7" y="503.8">5</text>
<text x="500.7 507.7" y="552.8">10</text><text x="514.7" y="547.8">4</text>
<text x="500.7 507.7" y="597.8">10</text><text x="514.7" y="592.8">3</text>
<text transform="translate(493.4,572) rotate(-90)" x="0 6 13 20 27 31 38 44 51 58 65 69 76 82 89" y="0">_45pt0_65pt0keV</text>
<line x1="540.5" y1="602" x2="540.5" y2="607" stroke="#000" stroke-width="1"/>
<line x1="547.5" y1="602" x2="547.5" y2="607" stroke="#000" stroke-width="1"/>
<line x1="554.5" y1="602" x2="554.5" y2="607" stroke="#000" stroke-width="1"/>
<line x1="559.5" y1="602" x2="559.5" y2="607" stroke="#000" stroke-width="1"/>
<line x1="564.5" y1="602" x2="564.5" y2="607" stroke="#000" stroke-width="1"/>
<line x1="569.5" y1="602" x2="569.5" y2="611" stroke="#000" stroke-width="1"/>
<line x1="598.5" y1="602" x2="598.5" y2="607" stroke="#000" stroke-width="1"/>
<line x1="615.5" y1="602" x2="615.5" y2="607" stroke="#000" stroke-width="1"/>
<line x1="627.5" y1="602" x2="627.5" y2="607" stroke="#000" stroke-width="1"/>
<line x1="636.5" y1="602" x2="636.5" y2="607" stroke="#000" stroke-width="1"/>
<line x1="644.5" y1="602" x2="644.5" y2="607" stroke="#000" stroke-width="1"/>
<line x1="650.5" y1="602" x2="650.5" y2="607" stroke="#000" stroke-width="1"/>
<line x1="656.5" y1="602" x2="656.5" y2="607" stroke="#000" stroke-width="1"/>
<line x1="660.5" y1="602" x2="660.5" y2="607" stroke="#000" stroke-width="1"/>
<line x1="665.5" y1="602" x2="665.5" y2="611" stroke="#000" stroke-width="1"/>
<line x1="694.5" y1="602" x2="694.5" y2="607" stroke="#000" stroke-width="1"/>
<line x1="711.5" y1="602" x2="711.5" y2="607" stroke="#000" stroke-width="1"/>
<line x1="723.5" y1="602" x2="723.5" y2="607" stroke="#000" stroke-width="1"/>
<line x1="732.5" y1="602" x2="732.5" y2="607" stroke="#000" stroke-width="1"/>
<line x1="740.5" y1="602" x2="740.5" y2="607" stroke="#000" stroke-width="1"/>
<line x1="746.5" y1="602" x2="746.5" y2="607" stroke="#000" stroke-width="1"/>
<line x1="752.5" y1="602" x2="752.5" y2="607" stroke="#000" stroke-width="1"/>
<line x1="757.5" y1="602" x2="757.5" y2="607" stroke="#000" stroke-width="1"/>
<line x1="761.5" y1="602" x2="761.5" y2="611" stroke="#000" stroke-width="1"/>
<line x1="790.5" y1="602" x2="790.5" y2="607" stroke="#000" stroke-width="1"/>
<line x1="807.5" y1="602" x2="807.5" y2="607" stroke="#000" stroke-width="1"/>
<line x1="819.5" y1="602" x2="819.5" y2="607" stroke="#000" stroke-width="1"/>
<line x1="828.5" y1="602" x2="828.5" y2="607" stroke="#000" stroke-width="1"/>
<line x1="836.5" y1="602" x2="836.5" y2="607" stroke="#000" stroke-width="1"/>
<line x1="842.5" y1="602" x2="842.5" y2="607" stroke="#000" stroke-width="1"/>
<line x1="848.5" y1="602" x2="848.5" y2="607" stroke="#000" stroke-width="1"/>
<text x="559 566" y="625">10</text><text x="573" y="620">3</text>
<text x="655 662" y="625">10</text><text x="669" y="620">4</text>
<text x="751 758" y="625">10</text><text x="765" y="620">5</text>
<text x="644 650 657 664 671 675 682 688 695 702 709 713 720 726 733" y="640.5">_65pt0_95pt0keV</text>
</svg>
</body></html>
